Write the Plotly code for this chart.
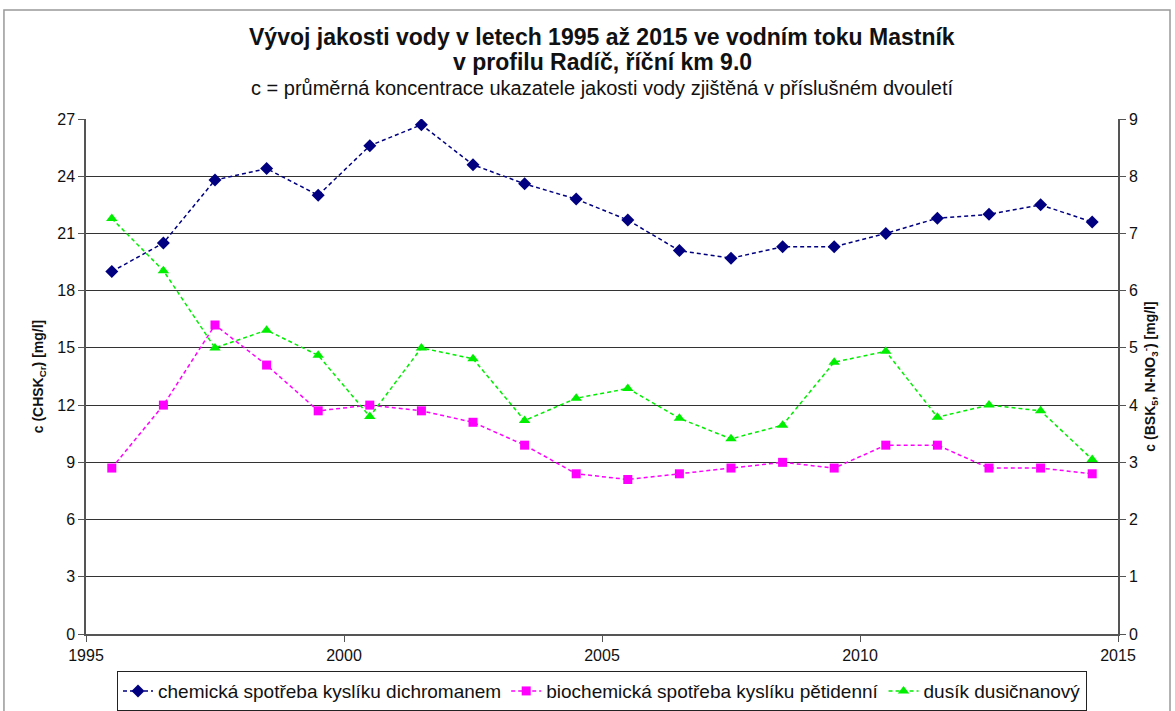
import plotly.graph_objects as go

years = [1995.5, 1996.5, 1997.5, 1998.5, 1999.5, 2000.5, 2001.5, 2002.5, 2003.5, 2004.5,
         2005.5, 2006.5, 2007.5, 2008.5, 2009.5, 2010.5, 2011.5, 2012.5, 2013.5, 2014.5]
chsk = [19.0, 20.5, 23.8, 24.4, 23.0, 25.6, 26.7, 24.6, 23.6, 22.8,
        21.7, 20.1, 19.7, 20.3, 20.3, 21.0, 21.8, 22.0, 22.5, 21.6]
bsk5 = [2.9, 4.0, 5.4, 4.7, 3.9, 4.0, 3.9, 3.7, 3.3, 2.8,
        2.7, 2.8, 2.9, 3.0, 2.9, 3.3, 3.3, 2.9, 2.9, 2.8]
nno3 = [7.26, 6.35, 5.0, 5.31, 4.87, 3.8, 5.0, 4.81, 3.73, 4.12,
        4.29, 3.77, 3.41, 3.65, 4.75, 4.94, 3.79, 4.0, 3.9, 3.05]

names = ["chemická spotřeba kyslíku dichromanem",
         "biochemická spotřeba kyslíku pětidenní",
         "dusík dusičnanový"]

title_1 = "Vývoj jakosti vody v letech 1995 až 2015 ve vodním toku Mastník"
title_2 = "v profilu Radíč, říční km 9.0"
subtitle = "c = průměrná koncentrace ukazatele jakosti vody zjištěná v příslušném dvouletí"

font = "Liberation Sans, Arial, sans-serif"
dash = "4px,3px"
TOP, PLOT_H = 119, 515

fig = go.Figure()
fig.add_trace(go.Scatter(x=years, y=chsk, name=names[0], mode="lines+markers",
                         line=dict(color="#000080", width=1.5, dash=dash),
                         marker=dict(symbol="diamond", size=10, color="#000080")))
fig.add_trace(go.Scatter(x=years, y=bsk5, name=names[1], mode="lines+markers", yaxis="y2",
                         line=dict(color="#FF00FF", width=1.5, dash=dash),
                         marker=dict(symbol="square", size=9, color="#FF00FF")))
fig.add_trace(go.Scatter(x=years, y=nno3, name=names[2], mode="lines+markers", yaxis="y2",
                         line=dict(color="#00EE00", width=1.5, dash=dash),
                         marker=dict(symbol="triangle-up", size=10, color="#00EE00")))

axis_common = dict(showline=True, linecolor="#555", linewidth=1.5, ticks="outside",
                   ticklen=6, tickcolor="#555", automargin=False,
                   tickfont=dict(size=16, color="#111"))


def top_text(text, y_px, size, bold=False):
    # annotation centred at a pixel row measured from the top of the figure
    return dict(text=f"<b>{text}</b>" if bold else text, xref="paper", yref="paper",
                x=0.5, y=1 + (TOP - y_px) / PLOT_H, xanchor="center", yanchor="middle",
                showarrow=False, font=dict(size=size, color="#111"))


fig.update_layout(
    width=1175, height=711,
    margin=dict(l=86, r=57, t=TOP, b=77, autoexpand=False),
    paper_bgcolor="white", plot_bgcolor="white",
    font=dict(family=font, color="#111"),
    annotations=[top_text(title_1, 37, 23, bold=True),
                 top_text(title_2, 62, 23, bold=True),
                 top_text(subtitle, 88, 20)],
    xaxis=dict(range=[1995, 2015], tickvals=[1995, 2000, 2005, 2010, 2015],
               showgrid=False, zeroline=False, **axis_common),
    yaxis=dict(range=[0, 27], tickvals=list(range(0, 28, 3)), showgrid=True,
               gridcolor="#333", gridwidth=1, zeroline=False,
               title=dict(text="<b>c (CHSK<sub>Cr</sub>) [mg/l]</b>", font=dict(size=14), standoff=10),
               **axis_common),
    yaxis2=dict(range=[0, 9], tickvals=list(range(0, 10)), overlaying="y", side="right",
                showgrid=False, zeroline=False,
                title=dict(text="<b>c (BSK<sub>5</sub>, N-NO<sub>3</sub><sup>-</sup>) [mg/l]</b>",
                           font=dict(size=14), standoff=8),
                **axis_common),
    legend=dict(orientation="h", x=0.5, xanchor="center", y=-0.072, yanchor="top",
                bordercolor="#222", borderwidth=1, font=dict(size=19),
                itemwidth=30, tracegroupgap=0),
    shapes=[dict(type="rect", xref="paper", yref="paper",
                 x0=-0.0795, x1=1.0504, y0=-0.16, y1=1.2117,
                 line=dict(color="#999", width=1.5), layer="below")],
)

fig.write_html("out.html", config={"displayModeBar": False},
               post_script="document.body.style.margin='0';")
